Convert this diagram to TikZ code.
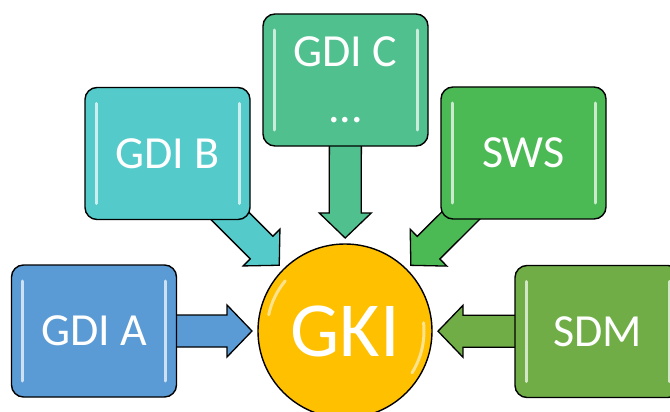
\documentclass[tikz,border=0pt]{standalone}
\usepackage{fontspec}
\setmainfont{Carlito}
\usetikzlibrary{calc,backgrounds}

\definecolor{gdiablue}{RGB}{91,155,213}
\definecolor{gdibteal}{RGB}{84,203,202}
\definecolor{gdicgreen}{RGB}{80,193,142}
\definecolor{swsgreen}{RGB}{75,185,84}
\definecolor{sdmgreen}{RGB}{112,173,71}
\definecolor{gkigold}{RGB}{255,192,0}

\tikzset{
  gdibox/.style={draw=black, line width=1.4pt, rounded corners=12pt, fill=#1, text=white,
    minimum width=165pt, minimum height=132pt, align=center,
    font=\fontsize{46}{55}\selectfont,
    path picture={
      \draw[white, opacity=.7, line width=3pt, line cap=round]
        ([xshift=11pt,yshift=-16pt]path picture bounding box.north west) --
        ([xshift=11pt,yshift=16pt]path picture bounding box.south west)
        ([xshift=-11pt,yshift=-16pt]path picture bounding box.north east) --
        ([xshift=-11pt,yshift=16pt]path picture bounding box.south east);
    }},
  hub/.style={circle, draw=black, line width=1.4pt, fill=gkigold, text=white,
    minimum size=174pt, font=\fontsize{78}{90}\selectfont,
    path picture={
      \draw[white, opacity=.55, line width=3pt, line cap=round]
        ([shift={(140:78pt)}]path picture bounding box.center)
          arc[start angle=140, end angle=168, radius=78pt]
        ([shift={(-32:79pt)}]path picture bounding box.center)
          arc[start angle=-32, end angle=6, radius=79pt];
    }},
  blockarr/.style={draw=black, line width=1.3pt, line join=miter},
}

% block arrow from box #1 towards the hub #2
\newcommand\blockarrow[3]{%
  \pgfmathanglebetweenpoints{\pgfpointanchor{#1}{center}}{\pgfpointanchor{#2}{center}}%
  \let\arrang\pgfmathresult
  \draw[blockarr, fill=#3, shift={($(#2)!93pt!(#1)$)}, rotate=\arrang]
    (0,0) -- (-25,26) -- (-25,16) -- (-100,16) -- (-100,-16) -- (-25,-16) -- (-25,-26) -- cycle;
}

\begin{document}
\begin{tikzpicture}[x=1pt, y=-1pt]
  \useasboundingbox (0,0) rectangle (670,412);

  \node[hub] (gki) at (345,331) {GKI};

  \node[gdibox=gdiablue] (gdia) at (94,331) {GDI A};
  \node[gdibox=gdibteal] (gdib) at (167.5,153.5) {GDI B};
  \node[gdibox=gdicgreen] (gdic) at (345.5,80) {GDI C\\[1pt]...};
  \node[gdibox=swsgreen] (sws) at (523.5,153) {SWS};
  \node[gdibox=sdmgreen] (sdm) at (597.5,331.5) {SDM};

  \begin{scope}[on background layer]
    \blockarrow{gdia}{gki}{gdiablue}
    \blockarrow{gdib}{gki}{gdibteal}
    \blockarrow{gdic}{gki}{gdicgreen}
    \blockarrow{sws}{gki}{swsgreen}
    \blockarrow{sdm}{gki}{sdmgreen}
  \end{scope}
\end{tikzpicture}
\end{document}
